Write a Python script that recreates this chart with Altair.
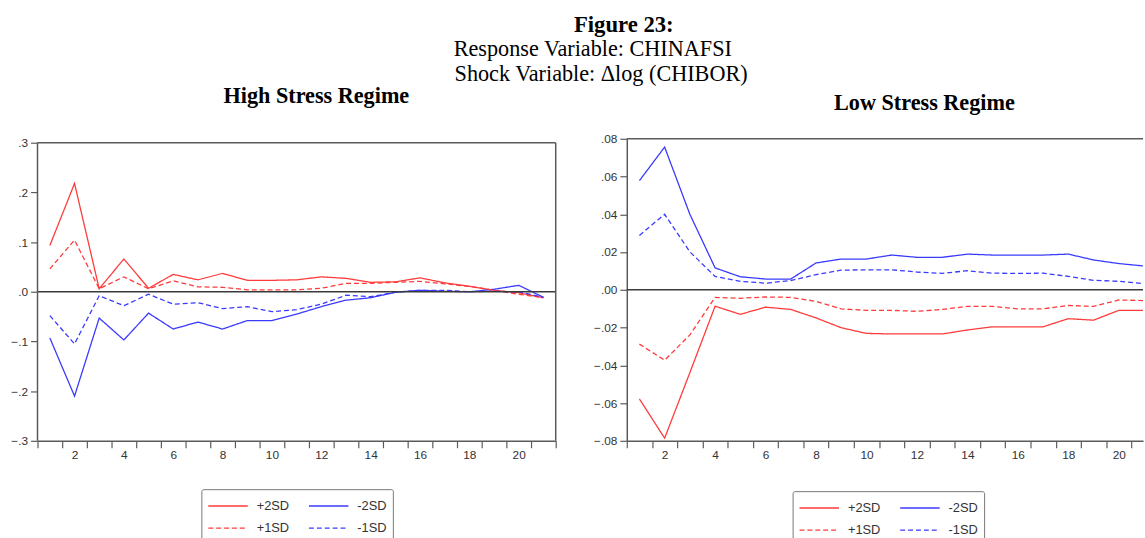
import altair as alt
import pandas as pd

periods = list(range(1, 22))
series_names = ["+2SD", "-2SD", "+1SD", "-1SD"]
series_colors = ["#ff3a3a", "#3a3aff", "#ff3a3a", "#3a3aff"]

# High stress regime
high_p2 = [0.093, 0.218, 0.006, 0.066, 0.007, 0.035, 0.024, 0.037, 0.023, 0.023, 0.024,
           0.030, 0.027, 0.019, 0.020, 0.028, 0.018, 0.011, 0.003, -0.002, -0.012]
high_p1 = [0.046, 0.104, 0.006, 0.030, 0.006, 0.022, 0.010, 0.009, 0.004, 0.004, 0.004,
           0.007, 0.017, 0.017, 0.019, 0.021, 0.016, 0.011, 0.003, -0.005, -0.012]
high_m2 = [-0.093, -0.210, -0.053, -0.097, -0.043, -0.075, -0.061, -0.075, -0.058, -0.058, -0.045,
           -0.030, -0.017, -0.012, -0.001, 0.003, 0.001, 0.000, 0.005, 0.013, -0.011]
high_m1 = [-0.048, -0.105, -0.008, -0.028, -0.005, -0.025, -0.022, -0.034, -0.030, -0.040, -0.036,
           -0.025, -0.007, -0.010, -0.001, 0.003, 0.003, 0.000, 0.001, 0.000, -0.011]

# Low stress regime
low_p2 = [-0.0578, -0.0786, -0.0439, -0.0087, -0.0130, -0.0092, -0.0104, -0.0149, -0.0201, -0.0231, -0.0234,
          -0.0234, -0.0234, -0.0213, -0.0196, -0.0196, -0.0196, -0.0153, -0.0161, -0.0109, -0.0109]
low_p1 = [-0.0288, -0.0373, -0.0239, -0.0040, -0.0045, -0.0038, -0.0040, -0.0061, -0.0101, -0.0109, -0.0109,
          -0.0114, -0.0104, -0.0088, -0.0088, -0.0101, -0.0101, -0.0083, -0.0088, -0.0054, -0.0057]
low_m2 = [0.0578, 0.0756, 0.0400, 0.0116, 0.0069, 0.0057, 0.0057, 0.0142, 0.0163, 0.0163, 0.0184,
          0.0172, 0.0172, 0.0189, 0.0184, 0.0184, 0.0184, 0.0189, 0.0158, 0.0139, 0.0126]
low_m1 = [0.0288, 0.0400, 0.0201, 0.0071, 0.0045, 0.0035, 0.0049, 0.0080, 0.0104, 0.0106, 0.0106,
          0.0094, 0.0087, 0.0101, 0.0088, 0.0087, 0.0088, 0.0071, 0.0050, 0.0045, 0.0033]

high_ticks = [-0.3, -0.2, -0.1, 0.0, 0.1, 0.2, 0.3]
low_ticks = [-0.08, -0.06, -0.04, -0.02, 0.0, 0.02, 0.04, 0.06, 0.08]


def long_frame(p2, m2, p1, m1):
    rows = []
    for name, vals in zip(series_names, [p2, m2, p1, m1]):
        for t, v in zip(periods, vals):
            rows.append({"period": t, "value": v, "series": name})
    return pd.DataFrame(rows)


high_df = long_frame(high_p2, high_m2, high_p1, high_m1)
low_df = long_frame(low_p2, low_m2, low_p1, low_m1)
one = pd.DataFrame({"k": [0]})

H = 306
LW = 525
RW = 523
unit_l = LW / 21.0
unit_r = 25.56
x_max_r = 0.5 + RW / unit_r
high_ymax = -0.3 + H * 0.6 / 302.0

frame_col = "#5a5a5a"


def legend(lx, ly):
    return alt.Legend(
        title=None, orient="none", legendX=lx, legendY=ly, columns=2, direction="horizontal",
        symbolType="M-1,0H3", symbolSize=400, symbolStrokeWidth=1.4,
        labelFont="Liberation Sans", labelFontSize=13, labelColor="#333333",
        labelOffset=28, columnPadding=17, rowPadding=4.5, padding=6,
        strokeColor="#777777", fillColor="white", cornerRadius=2,
    )


def x_axis(maxv, unit):
    vals = [0.5 + i for i in range(int(maxv - 0.5) + 1)]
    return alt.Axis(
        values=vals, title=None, grid=False,
        labelExpr="(datum.value + 0.5) % 2 == 0 && datum.value < 21 ? format(datum.value + 0.5, 'd') : ''",
        labelOffset=unit / 2, labelFlush=False, labelOverlap=False, labelBound=False,
        tickSize=7, labelPadding=2,
    )


def y_axis(ticks, fmt, full_box):
    return alt.Axis(values=ticks, title=None, grid=False, tickSize=7, labelPadding=3,
                    domain=not full_box,
                    labelExpr="replace(format(datum.value, '" + fmt + "'), '0.', '.')")


def panel(df, width, xmax, unit, ticks, fmt, ymin, ymax, ytop, title, tdx, toff, lx, ly, full_box):
    xs = alt.Scale(domain=[0.5, xmax], nice=False, zero=False)
    ys = alt.Scale(domain=[ymin, ytop], nice=False)
    xa = x_axis(xmax, unit)
    ya = y_axis(ticks, fmt, full_box)

    def xd(v):
        return alt.XDatum(v, type="quantitative", scale=xs, axis=xa)

    def yd(v):
        return alt.YDatum(v, type="quantitative", scale=ys, axis=ya)

    def rule(color=frame_col, **enc):
        return alt.Chart(one).mark_rule(color=color, strokeWidth=1.5).encode(**enc)

    lines = alt.Chart(df).mark_line(strokeWidth=1.3, clip=True).encode(
        x=alt.X("period:Q", scale=xs, axis=xa),
        y=alt.Y("value:Q", scale=ys, axis=ya),
        color=alt.Color("series:N", scale=alt.Scale(domain=series_names, range=series_colors),
                        legend=legend(lx, ly)),
        strokeDash=alt.StrokeDash("series:N", scale=alt.Scale(domain=series_names,
                                  range=[[1, 0], [1, 0], [5, 3], [5, 3]]), legend=legend(lx, ly)),
        order=alt.Order("period:Q"),
    )
    layers = [
        lines,
        rule(color="#3a3a3a", y=yd(0)),
        rule(x=xd(0.5), x2=alt.X2Datum(xmax), y=yd(ymax)),
    ]
    if full_box:
        layers.append(rule(x=xd(0.5), y=yd(ymax), y2=alt.Y2Datum(ymin)))
        layers.append(rule(x=xd(xmax), y=yd(ymax), y2=alt.Y2Datum(ymin)))
    ch = alt.layer(*layers).properties(
        width=width, height=H,
        view=alt.ViewBackground(stroke="transparent"),
        title=alt.TitleParams(title, font="Liberation Serif", fontSize=22.5, fontWeight="bold",
                              color="black", anchor="middle", dx=tdx, offset=toff),
    )
    return ch


left = panel(high_df, LW, 21.5, unit_l, high_ticks, ".1f", -0.3, 0.3, high_ymax,
             "High Stress Regime", 20, 30, 166, 355, True)
right = panel(low_df, RW, x_max_r, unit_r, low_ticks, ".2f", -0.08, 0.08, 0.08,
              "Low Stress Regime", 40, 19, 168, 357, False)

nb = "\u00a0"
zw = "\u200b"
chart = alt.hconcat(left, right, spacing=24).resolve_scale(
    color="independent", strokeDash="independent", x="independent", y="independent"
).properties(
    title=alt.TitleParams(
        zw + nb * 8 + "Figure 23:",
        subtitle=["Response Variable: CHINAFSI" + nb * 3 + zw, "Shock Variable: \u0394log (CHIBOR)"],
        font="Liberation Serif", fontSize=23, fontWeight="bold", color="black",
        subtitleFont="Liberation Serif", subtitleFontSize=22.5, subtitleColor="black",
        subtitleLineHeight=25.5, subtitlePadding=1, anchor="middle", dx=24, offset=-1,
    ),
    padding={"left": 10, "top": 10, "right": 0, "bottom": 0},
).configure_axis(
    labelFont="Liberation Sans", labelFontSize=12, labelColor="#333333",
    tickColor=frame_col, domainColor=frame_col, domainWidth=1.5, tickWidth=1.2,
)

chart.save("out.html", embed_options={"renderer": "svg", "actions": False})
